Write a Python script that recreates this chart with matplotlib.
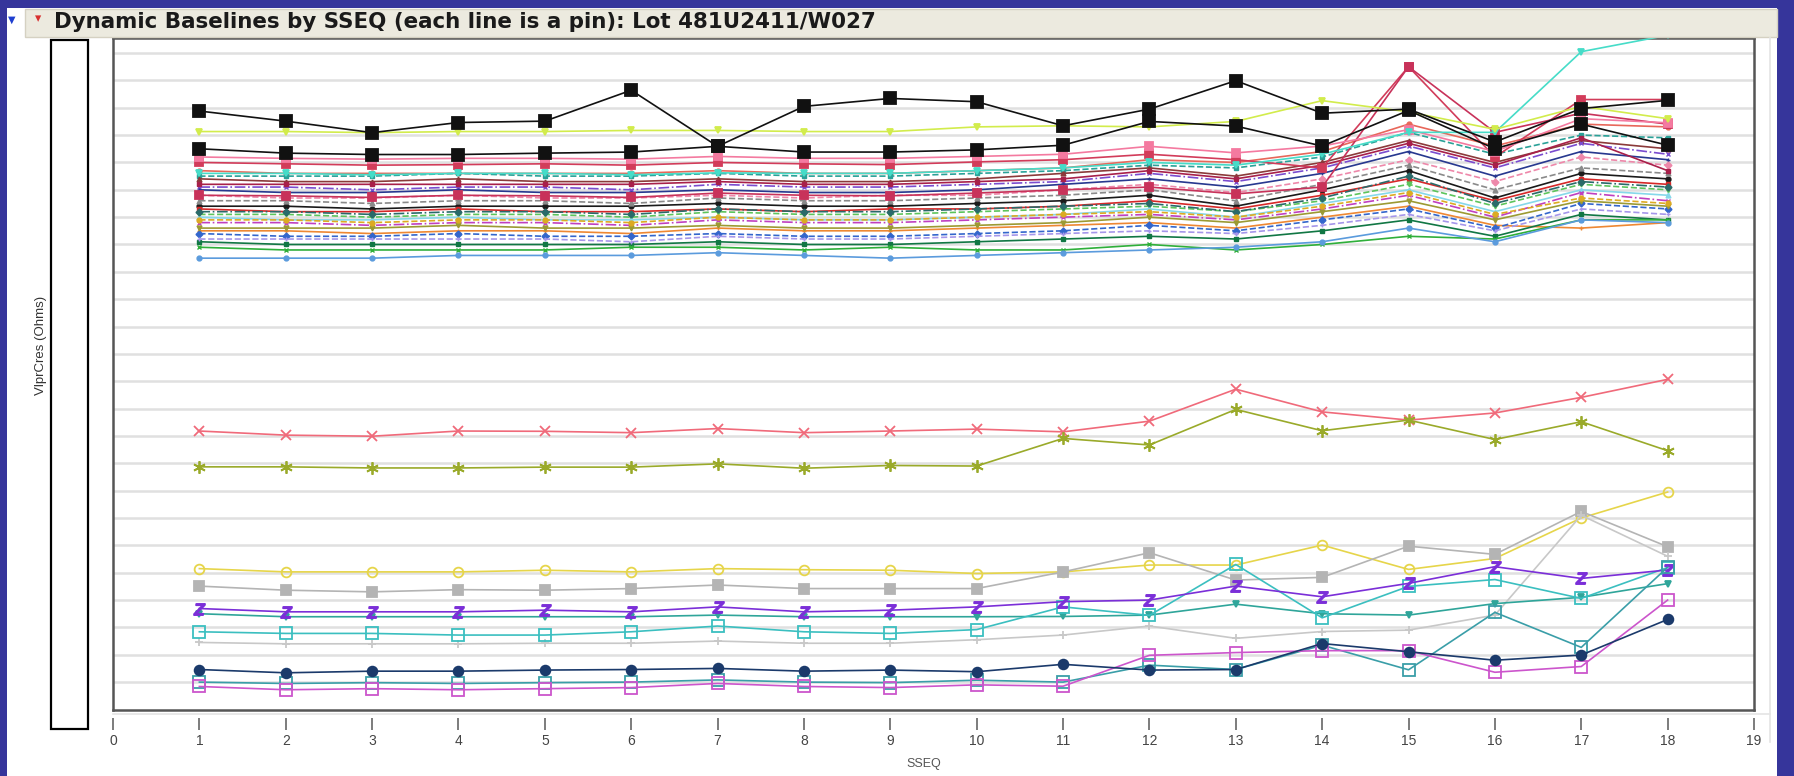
import matplotlib.pyplot as plt
from matplotlib.patches import Rectangle
from matplotlib.lines import Line2D

W_PX, H_PX = 1794, 776

title = "Dynamic Baselines by SSEQ (each line is a pin): Lot 481U2411/W027"
y_label = "VlprCres (Ohms)"
x_label = "SSEQ"

sseq = list(range(1, 19))
x_ticks = list(range(0, 20))

# lower pins (clearly separated)
pin_red_x = [9.18, 9.03, 8.99, 9.18, 9.17, 9.12, 9.27, 9.12, 9.18, 9.25, 9.15, 9.54, 10.71, 9.88, 9.58, 9.84, 10.41, 11.07]
pin_olive_star = [7.87, 7.87, 7.83, 7.83, 7.86, 7.86, 7.98, 7.82, 7.92, 7.90, 8.91, 8.67, 9.97, 9.19, 9.58, 8.87, 9.52, 8.46]
pin_yellow_o = [4.15, 4.03, 4.03, 4.03, 4.09, 4.03, 4.15, 4.11, 4.09, 3.97, 4.03, 4.28, 4.28, 5.01, 4.12, 4.52, 6.00, 6.95]
pin_gray_sq = [3.51, 3.36, 3.30, 3.38, 3.36, 3.42, 3.55, 3.42, 3.42, 3.42, 4.03, 4.73, 3.73, 3.83, 4.97, 4.67, 6.24, 4.95]
pin_purple_z = [2.69, 2.57, 2.57, 2.57, 2.63, 2.57, 2.75, 2.57, 2.63, 2.75, 2.94, 3.00, 3.51, 3.12, 3.61, 4.22, 3.79, 4.10]
pin_teal_v = [2.50, 2.39, 2.39, 2.39, 2.39, 2.39, 2.45, 2.39, 2.39, 2.39, 2.40, 2.45, 2.85, 2.50, 2.45, 2.87, 3.10, 3.60]
pin_cyan_sq = [1.84, 1.78, 1.78, 1.72, 1.72, 1.84, 2.05, 1.84, 1.78, 1.92, 2.75, 2.44, 4.30, 2.35, 3.50, 3.75, 3.06, 4.19]
pin_ltgray_plus = [1.45, 1.40, 1.40, 1.40, 1.42, 1.42, 1.50, 1.42, 1.42, 1.55, 1.72, 2.05, 1.60, 1.85, 1.90, 2.45, 6.10, 4.60]
pin_navy_dot = [0.46, 0.34, 0.40, 0.40, 0.44, 0.46, 0.50, 0.40, 0.44, 0.38, 0.65, 0.44, 0.46, 1.41, 1.11, 0.80, 0.99, 2.29]
pin_teal_sq = [0.00, -0.05, -0.02, -0.05, -0.02, 0.00, 0.08, 0.00, -0.02, 0.07, 0.00, 0.62, 0.46, 1.35, 0.45, 2.55, 1.27, 4.20]
pin_pink_sq = [-0.16, -0.28, -0.24, -0.28, -0.24, -0.20, -0.05, -0.16, -0.20, -0.10, -0.15, 0.98, 1.08, 1.15, 1.15, 0.36, 0.57, 3.00]

# upper pins that stand out of the bundle
pin_black_a = [20.88, 20.51, 20.09, 20.46, 20.51, 21.64, 19.59, 21.05, 21.34, 21.22, 20.34, 20.95, 21.99, 20.80, 20.95, 19.75, 20.97, 21.27]
pin_black_b = [19.50, 19.34, 19.29, 19.29, 19.34, 19.38, 19.59, 19.38, 19.38, 19.46, 19.63, 20.50, 20.33, 19.60, 20.90, 19.50, 20.40, 19.63]
pin_lime = [20.13, 20.13, 20.09, 20.13, 20.13, 20.17, 20.17, 20.13, 20.13, 20.30, 20.34, 20.30, 20.50, 21.26, 20.85, 20.21, 21.05, 20.60]
pin_cyan_top = [18.60, 18.60, 18.55, 18.60, 18.60, 18.55, 18.62, 18.60, 18.60, 18.70, 18.80, 19.00, 18.90, 19.30, 20.10, 20.10, 23.05, 23.65]
pin_crimson_a = [19.00, 18.95, 18.90, 18.92, 18.95, 18.90, 19.00, 18.95, 18.92, 19.02, 19.10, 19.30, 19.10, 18.80, 22.50, 19.20, 21.30, 21.30]
pin_crimson_b = [17.80, 17.78, 17.72, 17.80, 17.78, 17.72, 17.88, 17.80, 17.78, 17.88, 18.00, 18.10, 17.85, 18.10, 22.50, 20.10, 20.80, 20.40]
pin_pink_top = [19.20, 19.15, 19.12, 19.15, 19.15, 19.12, 19.22, 19.15, 19.15, 19.22, 19.30, 19.59, 19.35, 19.60, 20.20, 19.40, 20.60, 20.45]

# the dense bundle of pins
c01 = [18.7, 18.6, 18.6, 18.6, 18.6, 18.6, 18.7, 18.6, 18.6, 18.7, 18.8, 19.1, 19.0, 19.4, 20.4, 19.6, 20.4, 20.3]
c02 = [18.5, 18.5, 18.5, 18.6, 18.5, 18.5, 18.6, 18.5, 18.5, 18.6, 18.7, 18.9, 18.8, 19.2, 20.1, 19.3, 20.0, 19.9]
c03 = [18.4, 18.3, 18.3, 18.4, 18.3, 18.3, 18.4, 18.3, 18.3, 18.4, 18.6, 18.8, 18.5, 19.0, 19.8, 19.0, 19.8, 19.5]
c04 = [18.1, 18.1, 18.0, 18.1, 18.1, 18.0, 18.2, 18.1, 18.1, 18.2, 18.3, 18.6, 18.3, 18.8, 19.6, 18.8, 19.7, 19.3]
c05 = [18.0, 17.9, 17.9, 18.0, 17.9, 17.9, 18.0, 17.9, 17.9, 18.0, 18.2, 18.4, 18.1, 18.6, 19.4, 18.5, 19.4, 19.1]
c06 = [17.8, 17.7, 17.7, 17.8, 17.7, 17.7, 17.8, 17.7, 17.8, 17.8, 18.0, 18.2, 17.9, 18.4, 19.1, 18.3, 19.2, 18.9]
c07 = [17.4, 17.4, 17.3, 17.4, 17.4, 17.4, 17.5, 17.4, 17.4, 17.5, 17.6, 17.8, 17.4, 18.0, 18.7, 17.7, 18.6, 18.4]
c08 = [17.3, 17.2, 17.2, 17.3, 17.2, 17.2, 17.3, 17.2, 17.3, 17.3, 17.4, 17.6, 17.3, 17.8, 18.4, 17.6, 18.4, 18.2]
c09 = [17.1, 17.1, 17.0, 17.1, 17.1, 17.0, 17.2, 17.1, 17.1, 17.2, 17.3, 17.4, 17.2, 17.6, 18.2, 17.4, 18.2, 18.0]
c10 = [17.0, 16.9, 16.9, 17.0, 16.9, 16.9, 17.0, 16.9, 16.9, 17.0, 17.1, 17.3, 17.0, 17.5, 18.0, 17.2, 18.0, 17.8]
c11 = [16.8, 16.8, 16.7, 16.8, 16.8, 16.7, 16.9, 16.8, 16.8, 16.9, 17.0, 17.1, 16.9, 17.3, 17.8, 17.0, 17.9, 17.6]
c12 = [16.5, 16.5, 16.4, 16.5, 16.5, 16.4, 16.6, 16.5, 16.5, 16.6, 16.7, 16.8, 16.6, 17.0, 17.4, 16.7, 16.6, 16.8]
c13 = [16.4, 16.3, 16.3, 16.4, 16.3, 16.3, 16.4, 16.3, 16.3, 16.4, 16.5, 16.7, 16.5, 16.9, 17.3, 16.6, 17.5, 17.3]
c14 = [16.1, 16.0, 16.0, 16.0, 16.0, 16.0, 16.1, 16.0, 16.0, 16.1, 16.2, 16.3, 16.2, 16.5, 16.9, 16.3, 17.1, 16.9]
c15 = [15.9, 15.8, 15.8, 15.8, 15.8, 15.9, 15.9, 15.8, 15.9, 15.8, 15.8, 16.0, 15.8, 16.0, 16.3, 16.2, 16.9, 16.9]
c16 = [15.5, 15.5, 15.5, 15.6, 15.6, 15.6, 15.7, 15.6, 15.5, 15.6, 15.7, 15.8, 15.9, 16.1, 16.6, 16.1, 16.9, 16.8]
c17 = [17.6, 17.6, 17.5, 17.6, 17.6, 17.5, 17.7, 17.6, 17.6, 17.7, 17.8, 18.0, 17.6, 18.2, 18.9, 18.0, 18.8, 18.6]
c18 = [16.6, 16.6, 16.6, 16.7, 16.6, 16.6, 16.7, 16.6, 16.6, 16.7, 16.8, 17.0, 16.8, 17.2, 17.6, 16.9, 17.6, 17.4]
c19 = [16.2, 16.2, 16.2, 16.2, 16.2, 16.1, 16.3, 16.2, 16.2, 16.3, 16.4, 16.5, 16.4, 16.7, 17.1, 16.5, 17.3, 17.1]
c20 = [18.2, 18.2, 18.2, 18.2, 18.2, 18.2, 18.3, 18.2, 18.2, 18.3, 18.4, 18.7, 18.4, 18.9, 19.7, 18.9, 19.9, 18.7]
c21 = [17.2, 17.2, 17.1, 17.2, 17.2, 17.1, 17.3, 17.2, 17.2, 17.3, 17.4, 17.5, 17.2, 17.7, 18.5, 17.5, 18.3, 18.1]
c22 = [16.9, 16.9, 16.8, 16.9, 16.9, 16.8, 17.0, 16.9, 16.9, 17.0, 17.1, 17.2, 17.0, 17.4, 17.9, 17.1, 17.7, 17.5]


def fx(px):
    return px / W_PX


def fy(py):
    return 1 - py / H_PX


fig = plt.figure(figsize=(W_PX / 100, H_PX / 100), dpi=100)
fig.patch.set_facecolor('#36359b')

# white panel + title bar
fig.add_artist(Rectangle((fx(7), 0), fx(1777) - fx(7), fy(8), transform=fig.transFigure,
                         facecolor='white', edgecolor='none', zorder=0))
fig.add_artist(Rectangle((fx(25), fy(37)), fx(1777) - fx(25), fy(9) - fy(37), transform=fig.transFigure,
                         facecolor='#ECEADF', edgecolor='#D5D1C2', lw=1, zorder=1))
fig.text(fx(12), fy(20), '\u25bc', fontsize=7, color='#1f3fd0', ha='center', va='center')
fig.text(fx(38), fy(19), '\u25be', fontsize=9, color='#d83030', ha='center', va='center')
fig.text(fx(54), fy(22), title, fontsize=15.4, fontweight='bold', color='#1a1a1a',
         family='DejaVu Sans', ha='left', va='center')

# empty y axis box and its label
fig.add_artist(Rectangle((fx(51), fy(729)), fx(88) - fx(51), fy(40) - fy(729), transform=fig.transFigure,
                         facecolor='white', edgecolor='black', lw=1.6, zorder=2))
fig.text(fx(41), fy(345), y_label, rotation=90, fontsize=9.5, color='#333333',
         family='Liberation Sans', ha='center', va='center')

# faint outline lines of the report frame
fig.add_artist(Line2D([fx(113), fx(1770)], [fy(714), fy(714)], transform=fig.transFigure, color='#E4E4E4', lw=1.2))
fig.add_artist(Line2D([fx(1770), fx(1770)], [fy(38), fy(742)], transform=fig.transFigure, color='#E4E4E4', lw=1.2))

ax = fig.add_axes([fx(113), fy(710), fx(1754) - fx(113), fy(38) - fy(710)])
ax.set_xlim(0, 19)
ax.set_ylim(-1.02, 23.55)
ax.set_xticks([])
ax.set_yticks([])
for s in ax.spines.values():
    s.set_color('#555555')
    s.set_linewidth(1.8)
for k in range(24):
    ax.axhline(k, color='#E0E0E0', lw=1.8, zorder=0)

cluster = [c01, c02, c03, c04, c05, c06, c07, c08, c09, c10, c11,
           c12, c13, c14, c15, c16, c17, c18, c19, c20, c21, c22]
cluster_colors = ['#E8675A', '#2AA198', '#8B3A3A', '#7A4CCF', '#27388F', '#EE88AA', '#1A1A1A', '#D62828',
                  '#5CC45C', '#86D8EA', '#C040C0', '#EE8833', '#3366CC', '#117744', '#2FAF3A', '#5B9BDD',
                  '#8A8A8A', '#9C9A33', '#A596EA', '#A8204A', '#2A6A6A', '#DDAA22']
styles = ['-', '--', '-', '-.', '-', '--', '-', '-', '--', '-', '-.', '-', '--', '-', '-', '-',
          '--', '-', '--', '-', '-.', '--']
marks = ['o', 's', '^', 'x', '+', 'D', 'o', 's', 'v', '^', 'x', '+', 'D', 's', 'x', 'o', '^', 'v', '+', 's', 'D', 'o']
for vals, col, ls, mk in zip(cluster, cluster_colors, styles, marks):
    ax.plot(sseq, vals, color=col, ls=ls, lw=1.2, marker=mk, ms=3.5, mew=1, zorder=2)

# highlighted pins: values, colour, marker, marker size, filled
pins = [
    (pin_crimson_a, '#D23C5A', 's', 6, True),
    (pin_crimson_b, '#C8325A', 's', 6, True),
    (pin_pink_top, '#F47AA0', 's', 6, True),
    (pin_cyan_top, '#46DCC8', 'v', 5, True),
    (pin_lime, '#D2EC4C', 'v', 5, True),
    (pin_black_b, '#111111', 's', 8, True),
    (pin_black_a, '#111111', 's', 8, True),
    (pin_red_x, '#F06A7A', 'x', 7, True),
    (pin_olive_star, '#9AAA2A', (6, 2, 0), 9, True),
    (pin_yellow_o, '#E6D54A', 'o', 7, False),
    (pin_gray_sq, '#B4B4B4', 's', 7, True),
    (pin_ltgray_plus, '#C8C8C8', '+', 6, True),
    (pin_teal_v, '#2FA59A', 'v', 5, True),
    (pin_cyan_sq, '#3BBFC0', 's', 9, False),
    (pin_purple_z, '#7B2FD8', '$Z$', 8, True),
    (pin_teal_sq, '#3A9EA8', 's', 9, False),
    (pin_pink_sq, '#CC55CC', 's', 9, False),
    (pin_navy_dot, '#1B3A6B', 'o', 7, True),
]
for vals, col, mk, ms, filled in pins:
    ax.plot(sseq, vals, color=col, lw=1.2, marker=mk, ms=ms, mew=1.3,
            mfc=col if filled else 'none', zorder=3)

# x axis drawn below the frame
axx = fig.add_axes([fx(113), fy(730), fx(1754) - fx(113), 0.0001])
axx.set_xlim(0, 19)
axx.set_xticks(x_ticks)
axx.set_yticks([])
axx.patch.set_visible(False)
for s in axx.spines.values():
    s.set_visible(False)
axx.tick_params(axis='x', direction='in', length=8.5, width=1.2, color='#666666',
                labelsize=10, labelcolor='#444444', pad=3)
for lab in axx.get_xticklabels():
    lab.set_family('Liberation Sans')

fig.text(fx(924), fy(764), x_label, fontsize=9, color='#555555', family='Liberation Sans',
         ha='center', va='center')

fig.savefig('out.png', dpi=100, facecolor=fig.get_facecolor())
